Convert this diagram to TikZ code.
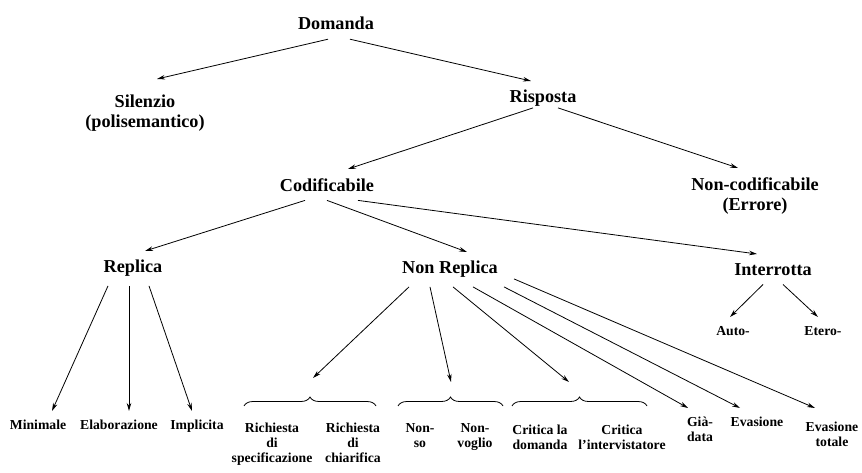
\documentclass[tikz,border=0pt]{standalone}
\usepackage{fontspec}
\setmainfont{Liberation Serif}
\usetikzlibrary{arrows.meta,decorations.pathreplacing}

\tikzset{
  big/.style={font=\bfseries\fontsize{18.2}{20}\selectfont, align=center, anchor=north, inner xsep=0pt, inner ysep=9pt},
  small/.style={font=\bfseries\fontsize{13.7}{15}\selectfont, align=center, anchor=north, inner xsep=0pt, inner ysep=9pt},
  arr/.style={-{Stealth[length=8pt,width=4.5pt]}, line width=0.8pt},
  brc/.style={decorate, decoration={brace, amplitude=9pt}, line width=0.8pt}
}

\begin{document}
\begin{tikzpicture}[x=1pt,y=-1pt]
\useasboundingbox (0,0) rectangle (862,473);

% livelli alti
\node[big] (dom) at (336,8) {Domanda};
\node[big] (sil) at (145,86) {Silenzio\\(polisemantico)};
\node[big] (ris) at (543,81) {Risposta};
\node[big] (cod) at (327,169) {Codificabile};
\node[big] (nc) at (755,168) {Non-codificabile\\(Errore)};
\node[big] (rep) at (133,251) {Replica};
\node[big] (nrep) at (450,252) {Non Replica};
\node[big] (intr) at (773,254) {Interrotta};

% foglie
\node[small] (auto) at (733,317) {Auto-};
\node[small] (etero) at (823,317) {Etero-};
\node[small] (min) at (38,411) {Minimale};
\node[small] (ela) at (119,411) {Elaborazione};
\node[small] (imp) at (197,411) {Implicita};
\node[small] (rspec) at (272,414) {Richiesta\\di\\specificazione};
\node[small] (rchia) at (353,414) {Richiesta\\di\\chiarifica};
\node[small] (nso) at (420,414) {Non-\\so};
\node[small] (nvog) at (475,414) {Non-\\voglio};
\node[small] (cdom) at (540,416) {Critica la\\domanda};
\node[small] (cint) at (622,416) {Critica\\l’intervistatore};
\node[small] (gia) at (700,408) {Già-\\data};
\node[small] (eva) at (757,408) {Evasione};
\node[small] (evt) at (832,413) {Evasione\\totale};

% graffe
\draw[brc] (244,406) -- (376,406);
\draw[brc] (398,406) -- (503,406);
\draw[brc] (512,406) -- (647,406);
\coordinate (br1) at (313,378);
\coordinate (br2) at (451,382);
\coordinate (br3) at (569,382);

% frecce
\draw[arr] ([xshift=-8pt]dom.south) -- ([xshift=12pt,yshift=7pt]sil.north);
\draw[arr] ([xshift=14pt]dom.south) -- ([xshift=-12pt]ris.north);
\draw[arr] ([xshift=-10pt,yshift=8pt]ris.south) -- ([xshift=21pt]cod.north);
\draw[arr] ([xshift=15pt,yshift=8pt]ris.south) -- ([xshift=-17pt]nc.north);
\draw[arr] ([xshift=-22pt]cod.south) -- ([xshift=12pt]rep.north);
\draw[arr] (cod.south) -- ([xshift=17pt]nrep.north);
\draw[arr] ([xshift=31pt]cod.south) -- ([xshift=-16pt]intr.north);
\draw[arr] ([xshift=-25pt]rep.south) -- ([xshift=14pt]min.north);
\draw[arr] ([xshift=-4pt]rep.south) -- ([xshift=10pt]ela.north);
\draw[arr] ([xshift=16pt]rep.south) -- ([xshift=-5pt]imp.north);
\draw[arr] ([xshift=-41pt]nrep.south) -- (br1);
\draw[arr] ([xshift=-20pt]nrep.south) -- (br2);
\draw[arr] ([xshift=3pt]nrep.south) -- (br3);
\draw[arr] ([xshift=23pt]nrep.south) -- ([xshift=-12pt]gia.north);
\draw[arr] ([xshift=54pt]nrep.south) -- ([xshift=-17pt]eva.north);
\draw[arr] ([xshift=64pt,yshift=8pt]nrep.south) -- ([xshift=-17pt,yshift=5pt]evt.north);
\draw[arr] ([xshift=-10pt]intr.south) -- ([xshift=-3pt]auto.north);
\draw[arr] ([xshift=10pt]intr.south) -- ([xshift=-5pt]etero.north);
\end{tikzpicture}
\end{document}
